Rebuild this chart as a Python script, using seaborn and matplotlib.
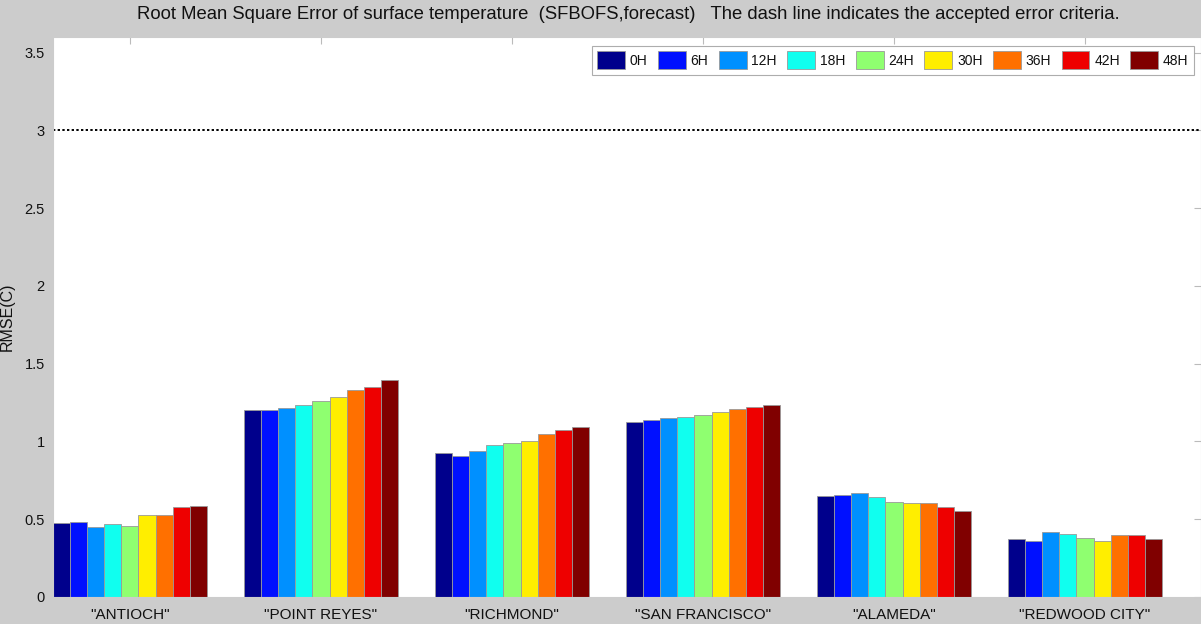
import numpy as np
import pandas as pd
import seaborn as sns
import matplotlib
matplotlib.use('Agg')
from matplotlib import pyplot as plt

STATIONS = ['"ANTIOCH"', '"POINT REYES"', '"RICHMOND"', '"SAN FRANCISCO"', '"ALAMEDA"', '"REDWOOD CITY"']
HOURS = ['0H', '6H', '12H', '18H', '24H', '30H', '36H', '42H', '48H']

# RMSE per station, one value per forecast hour (0H..48H)
antioch = [0.473, 0.480, 0.447, 0.470, 0.458, 0.525, 0.527, 0.580, 0.584]
point_reyes = [1.201, 1.201, 1.216, 1.235, 1.263, 1.283, 1.329, 1.353, 1.392]
richmond = [0.927, 0.906, 0.940, 0.978, 0.991, 1.004, 1.045, 1.075, 1.092]
san_francisco = [1.124, 1.135, 1.148, 1.160, 1.173, 1.186, 1.210, 1.222, 1.237]
alameda = [0.651, 0.655, 0.666, 0.640, 0.608, 0.602, 0.602, 0.576, 0.550]
redwood_city = [0.370, 0.362, 0.415, 0.407, 0.381, 0.358, 0.400, 0.396, 0.370]

CRITERIA = 3.0
YTICKS = [0, 0.5, 1, 1.5, 2, 2.5, 3, 3.5]

COLORS = ['#00008c', '#0010ff', '#0090ff', '#10ffef', '#8fff70',
          '#ffee00', '#ff7000', '#ee0000', '#800000']

rows = []
for station, vals in zip(STATIONS, [antioch, point_reyes, richmond,
                                    san_francisco, alameda, redwood_city]):
    for h, v in zip(HOURS, vals):
        rows.append({'station': station, 'hour': h, 'rmse': v})
df = pd.DataFrame(rows)

sns.set_style('white')
plt.rcParams['font.family'] = ['Liberation Sans', 'DejaVu Sans']
plt.rcParams['text.color'] = '#111111'
plt.rcParams['axes.labelcolor'] = '#111111'
plt.rcParams['xtick.color'] = '#111111'
plt.rcParams['ytick.color'] = '#111111'

fig = plt.figure(figsize=(12.01, 6.24), dpi=100, facecolor='#cccccc')
ax = fig.add_axes([0.0441, 0.0433, 0.9559, 0.8974])
ax.set_facecolor('white')

sns.barplot(data=df, x='station', y='rmse', hue='hour', order=STATIONS,
            hue_order=HOURS, palette=COLORS, width=0.806, errorbar=None,
            edgecolor='#999999', linewidth=0.6, saturation=1, ax=ax)

ax.axhline(CRITERIA, color='black', linestyle=(0, (1.2, 1.2)), linewidth=1.4)

ax.set_xlim(-0.403, 5.607)
ax.set_ylim(0, 3.6)
ax.set_yticks(YTICKS)
ax.set_yticklabels(['0', '0.5', '1', '1.5', '2', '2.5', '3', '3.5'])
ax.set_xlabel('')
ax.set_ylabel('RMSE(C)', fontsize=11.5)
ax.yaxis.set_label_coords(-0.033, 0.5)
ax.tick_params(axis='both', direction='in', length=5, labelsize=10.5,
               top=True, right=True, pad=6)
ax.tick_params(axis='both', which='major', color='#bbbbbb')
ax.tick_params(axis='x', labelsize=11, pad=8)
for s in ax.spines.values():
    s.set_color('#cccccc')
    s.set_linewidth(0.8)

fig.text(0.523, 0.977, 'Root Mean Square Error of surface temperature  (SFBOFS,forecast)   '
         'The dash line indicates the accepted error criteria.',
         ha='center', va='center', fontsize=13.3,
         family=['Liberation Sans Narrow', 'Liberation Sans', 'DejaVu Sans'])

leg = ax.legend(loc='upper right', ncol=9, bbox_to_anchor=(0.9975, 0.992),
                frameon=True, fancybox=False, fontsize=10,
                handlelength=2.0, handleheight=1.6, handletextpad=0.35,
                columnspacing=0.75, borderpad=0.4, borderaxespad=0.3)
leg.get_frame().set_edgecolor('#999999')
leg.get_frame().set_linewidth(0.8)

fig.savefig('out.png', dpi=100, facecolor=fig.get_facecolor())
